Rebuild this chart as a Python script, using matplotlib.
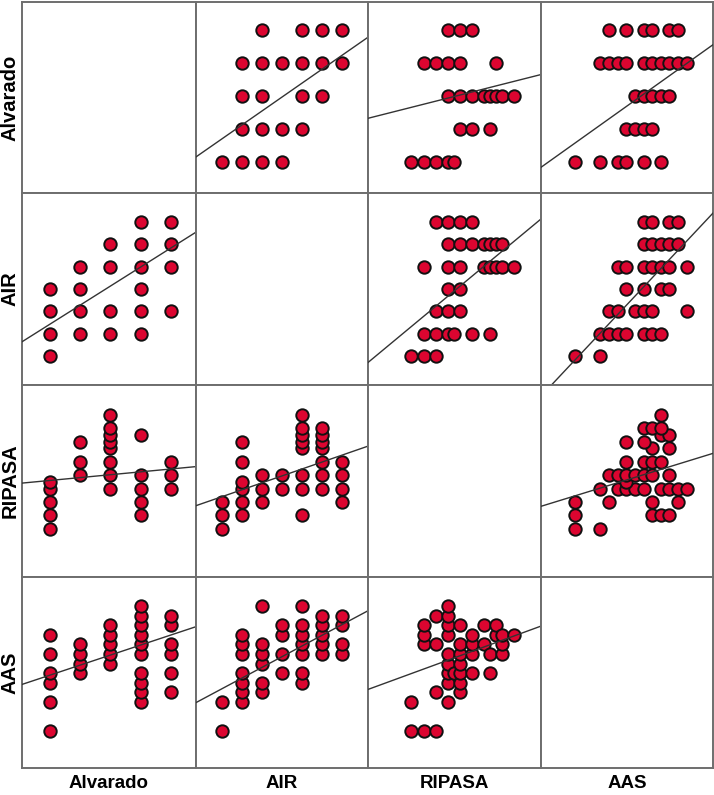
import matplotlib
matplotlib.use('Agg')
import matplotlib.pyplot as plt
import numpy as np

plt.rcParams['font.family'] = ['Liberation Sans', 'DejaVu Sans']

# 变量名
names = ['Alvarado', 'AIR', 'RIPASA', 'AAS']

# 坐标轴范围 (行与列共用)
lims = {
    'Alvarado': (4.08, 9.83),
    'AIR': (1.69, 10.31),
    'RIPASA': (1.4, 15.72),
    'AAS': (-0.9, 19.05),
}

# 散点数据: 第一个变量的取值 -> 第二个变量的取值列表
alv_air = {5: [3, 4, 5, 6], 6: [4, 5, 6, 7], 7: [4, 5, 7, 8],
           8: [4, 5, 6, 7, 8, 9], 9: [5, 7, 8, 9]}
alv_ripasa = {5: [5, 6, 7, 8, 8.5], 6: [9, 10, 11.5],
              7: [8, 9, 10, 11, 11.5, 12, 12.5, 13.5],
              8: [6, 7, 8, 9, 12], 9: [8, 9, 10]}
alv_aas = {5: [3, 6, 8, 9, 11, 13], 6: [9, 10, 11, 12], 7: [10, 11, 12, 13, 14],
           8: [6, 7, 8, 9, 11, 12, 13, 14, 15, 16], 9: [7, 9, 11, 12, 14, 15]}
air_ripasa = {3: [5, 6, 7], 4: [6, 7, 8, 8.5, 10, 11.5], 5: [7, 8, 9], 6: [8, 9],
              7: [6, 8, 9, 11, 11.5, 12, 12.5, 13.5],
              8: [8, 9, 10, 11, 11.5, 12, 12.5], 9: [7, 8, 9, 10]}
air_aas = {3: [3, 6], 4: [6, 7, 8, 9, 11, 12, 13], 5: [7, 8, 10, 11, 12, 16],
           6: [9, 11, 13, 14], 7: [8, 9, 11, 12, 13, 14, 16],
           8: [11, 12, 13, 14, 15], 9: [11, 12, 14, 15]}
ripasa_aas = {5: [3, 6], 6: [3, 12, 13, 14], 7: [3, 7, 12, 15],
              8: [6, 8, 9, 10, 11, 13, 14, 15, 16], 8.5: [9],
              9: [7, 8, 9, 10, 11, 12, 14], 10: [9, 11, 12, 13], 11: [12, 14],
              11.5: [9, 11], 12: [13, 14], 12.5: [11, 12, 13], 13.5: [13]}

pairs = {
    ('Alvarado', 'AIR'): alv_air,
    ('Alvarado', 'RIPASA'): alv_ripasa,
    ('Alvarado', 'AAS'): alv_aas,
    ('AIR', 'RIPASA'): air_ripasa,
    ('AIR', 'AAS'): air_aas,
    ('RIPASA', 'AAS'): ripasa_aas,
}

# 拟合直线 (行变量 = 截距 + 斜率 * 列变量)
fits = {
    ('Alvarado', 'AIR'): (4.46, 0.418),
    ('Alvarado', 'RIPASA'): (6.20, 0.092),
    ('Alvarado', 'AAS'): (5.02, 0.185),
    ('AIR', 'Alvarado'): (0.138, 0.856),
    ('AIR', 'RIPASA'): (2.07, 0.45),
    ('AIR', 'AAS'): (1.56, 0.412),
    ('RIPASA', 'Alvarado'): (7.53, 0.214),
    ('RIPASA', 'AIR'): (5.85, 0.515),
    ('RIPASA', 'AAS'): (6.85, 0.198),
    ('AAS', 'Alvarado'): (3.55, 1.049),
    ('AAS', 'AIR'): (4.05, 1.113),
    ('AAS', 'RIPASA'): (6.66, 0.462),
}


def get_xy(row, col):
    # 返回 (列变量值, 行变量值)
    if (row, col) in pairs:
        d = pairs[(row, col)]
        ys = [k for k, v in d.items() for _ in v]
        xs = [x for v in d.values() for x in v]
    else:
        d = pairs[(col, row)]
        xs = [k for k, v in d.items() for _ in v]
        ys = [y for v in d.values() for y in v]
    return xs, ys


W, H = 714, 795
fig = plt.figure(figsize=(W / 100, H / 100), dpi=100)

col_edges = [22, 196, 368, 541, 713]
row_edges = [2, 193, 385, 577, 768]

for i, row in enumerate(names):
    for j, col in enumerate(names):
        x0, x1 = col_edges[j], col_edges[j + 1]
        y0, y1 = row_edges[i], row_edges[i + 1]
        ax = fig.add_axes([x0 / W, 1 - y1 / H, (x1 - x0) / W, (y1 - y0) / H])
        ax.set_xlim(lims[col])
        ax.set_ylim(lims[row])
        ax.set_xticks([])
        ax.set_yticks([])
        for s in ax.spines.values():
            s.set_color('#6e6e6e')
            s.set_linewidth(1.4)
        if i == j:
            continue
        xs, ys = get_xy(row, col)
        ax.scatter(xs, ys, s=80, c='#DC0530', edgecolors='#111111',
                   linewidths=1.4, zorder=3, clip_on=False)
        a, b = fits[(row, col)]
        lx = np.array(lims[col])
        ax.plot(lx, a + b * lx, color='#333333', lw=1.0, zorder=4)

# 行/列标签
for i, name in enumerate(names):
    yc = (row_edges[i] + row_edges[i + 1]) / 2
    fig.text(10 / W, 1 - yc / H, name, rotation=90, ha='center', va='center',
             fontsize=14.5, fontweight='bold')
    xc = (col_edges[i] + col_edges[i + 1]) / 2
    fig.text(xc / W, 1 - 784 / H, name, ha='center', va='center',
             fontsize=13.5, fontweight='bold')

plt.savefig('out.png', dpi=100)
